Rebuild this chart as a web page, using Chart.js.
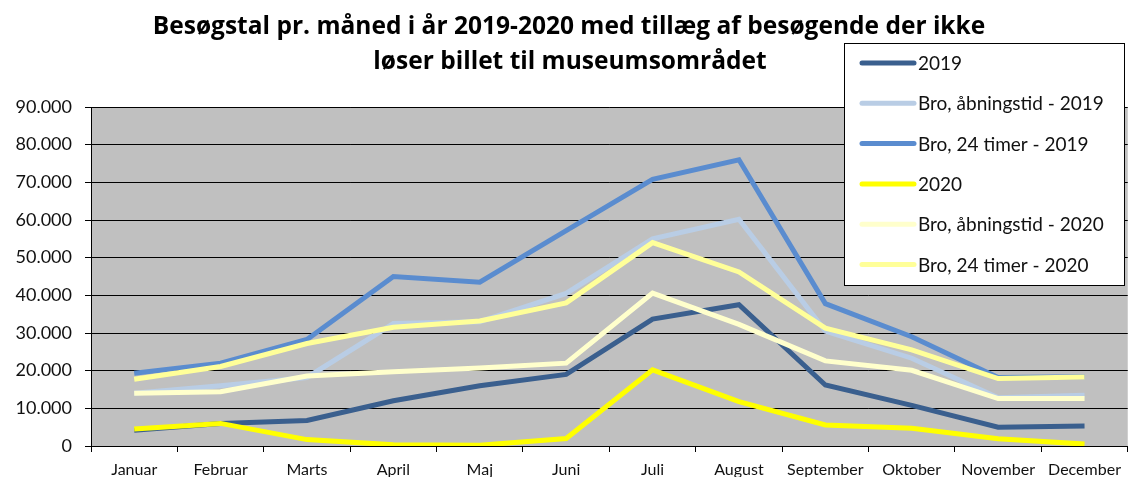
<!DOCTYPE html>
<html><head><meta charset="utf-8">
<script src="https://cdn.jsdelivr.net/npm/chart.js@4/dist/chart.umd.min.js"></script>
<style>html,body{margin:0;padding:0;background:#fff;}#wrap{position:relative;width:1129px;height:477px;}</style>
</head><body>
<div id="wrap"><canvas id="c" width="1129" height="477"></canvas></div>
<script>
const months = ["Januar","Februar","Marts","April","Maj","Juni","Juli","August","September","Oktober","November","December"];
const titleLines = ["Besøgstal pr. måned i år 2019-2020 med tillæg af besøgende der ikke","løser billet til museumsområdet"];
const labels = ["2019","Bro, åbningstid - 2019","Bro, 24 timer - 2019","2020","Bro, åbningstid - 2020","Bro, 24 timer - 2020"];
const v2019      = [4200, 6000, 6800, 12000, 16000, 19000, 33700, 37500, 16200, 10800, 5000, 5300];
const broAab2019 = [14000, 16000, 18200, 32500, 33000, 40500, 55000, 60200, 30500, 23300, 12800, 13500];
const bro24_2019 = [19300, 22000, 28300, 45000, 43500, 57200, 70800, 76000, 37800, 29000, 18200, 18400];
const v2020      = [4500, 6000, 1700, 300, 200, 2000, 20200, 11800, 5600, 4700, 1900, 500];
const broAab2020 = [14000, 14400, 18600, 19700, 20700, 22000, 40600, 32300, 22600, 20100, 12600, 12600];
const bro24_2020 = [17700, 21100, 27200, 31500, 33200, 38000, 54000, 46200, 31300, 25500, 17900, 18300];
const colors = ["#3A5F8E","#B9CDE5","#5A8CCF","#FFFF00","#FFFFCC","#FFFF99"];
const yTicks = [0,10000,20000,30000,40000,50000,60000,70000,80000,90000];

const series = [v2019, broAab2019, bro24_2019, v2020, broAab2020, bro24_2020];
const fmt = v => v === 0 ? "0" : String(v).replace(/\B(?=(\d{3})+(?!\d))/g, ".");

const bgPlugin = {
  id: 'bg',
  beforeDraw(chart) {
    const {ctx, chartArea: a} = chart;
    ctx.save();
    ctx.fillStyle = "#C0C0C0";
    ctx.fillRect(a.left, a.top, a.right - a.left, a.bottom - a.top);
    ctx.restore();
  },
  afterDraw(chart) {
    const ctx = chart.ctx;
    ctx.save();
    // title
    ctx.fillStyle = "#000";
    ctx.font = "bold 22px 'Open Sans', sans-serif";
    const w = ctx.measureText(titleLines[0]).width;
    const size = 22 * 833 / w;
    ctx.font = "bold " + size.toFixed(2) + "px 'Open Sans', sans-serif";
    ctx.textAlign = "center";
    ctx.textBaseline = "middle";
    ctx.fillText(titleLines[0], 569, 27);
    ctx.fillText(titleLines[1], 570, 62);
    // legend
    ctx.fillStyle = "#fff";
    ctx.fillRect(844.5, 43.5, 280, 242);
    ctx.strokeStyle = "#000";
    ctx.lineWidth = 1;
    ctx.strokeRect(844.5, 43.5, 280, 242);
    ctx.font = "19px Lato, sans-serif";
    ctx.textAlign = "left";
    chart.data.datasets.forEach((ds, i) => {
      const y = 63 + i * 40.3;
      ctx.strokeStyle = ds.borderColor;
      ctx.lineWidth = 5;
      ctx.lineCap = "round";
      ctx.beginPath();
      ctx.moveTo(862, y);
      ctx.lineTo(914, y);
      ctx.stroke();
      ctx.fillStyle = "#111";
      ctx.fillText(ds.label, 918, y + 1);
    });
    ctx.restore();
  }
};

new Chart(document.getElementById('c'), {
  type: 'line',
  data: {
    labels: months,
    datasets: series.map((d, i) => ({
      label: labels[i],
      data: d,
      borderColor: colors[i],
      backgroundColor: colors[i],
      borderWidth: 5,
      pointRadius: 0,
      tension: 0,
      order: -i
    }))
  },
  options: {
    responsive: false,
    animation: false,
    layout: { padding: { top: 107, right: 1, left: 0, bottom: 0 } },
    plugins: { legend: { display: false }, title: { display: false }, tooltip: { enabled: false } },
    scales: {
      x: {
        offset: true,
        grid: { offset: true, drawOnChartArea: false, drawTicks: true, tickLength: 6, color: "#000" },
        border: { display: true, color: "#000", width: 1 },
        ticks: { color: "#111", font: { family: "Lato, sans-serif", size: 16 }, maxRotation: 0, autoSkip: false, padding: 8 },
        afterFit(s) { s.height = 31; }
      },
      y: {
        min: 0, max: 90000,
        afterBuildTicks(s) { s.ticks = yTicks.map(v => ({ value: v })); },
        grid: { color: "#000", lineWidth: 1, drawTicks: true, tickLength: 6 },
        border: { display: true, color: "#000", width: 1 },
        ticks: { color: "#111", font: { family: "Lato, sans-serif", size: 18 }, padding: 13, callback: v => fmt(v) },
        afterFit(s) { s.width = 91; }
      }
    }
  },
  plugins: [bgPlugin]
});
</script>
</body></html>
